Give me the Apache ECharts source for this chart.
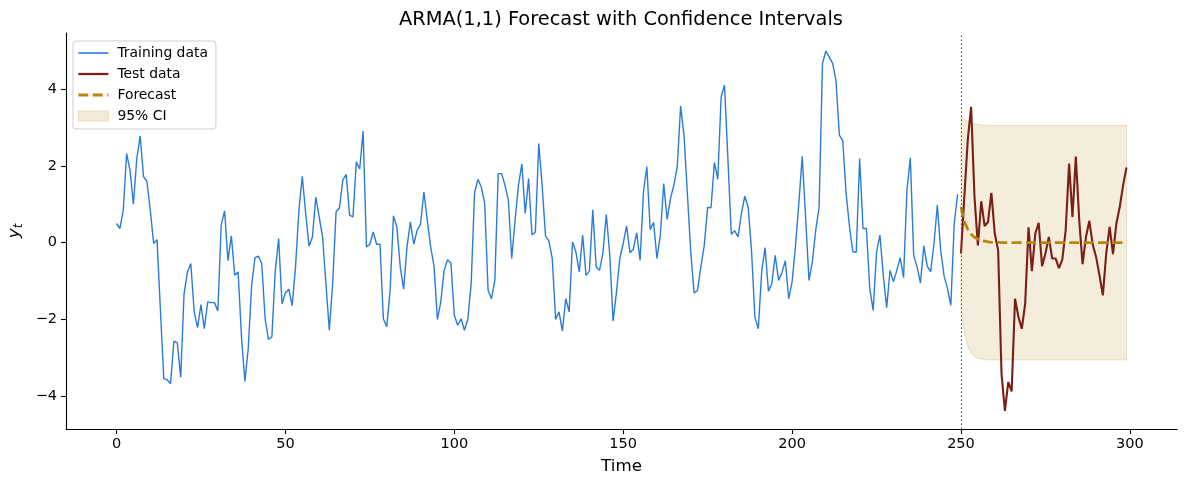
<!DOCTYPE html>
<html>
<head>
<meta charset="utf-8">
<script src="https://cdn.jsdelivr.net/npm/echarts@6/dist/echarts.min.js"></script>
<style>
html,body{margin:0;padding:0;background:#fff;}
#c{width:1187px;height:487px;}
</style>
</head>
<body>
<div id="c"></div>
<script>
// ---- data ----
const trainStart = 0;
const trainValues = [
 0.50, 0.37, 0.85, 2.32, 1.89, 1.00, 2.19, 2.78, 1.72, 1.60,
 0.85,-0.02, 0.08,-1.75,-3.54,-3.57,-3.67,-2.56,-2.61,-3.50,
-1.33,-0.76,-0.54,-1.80,-2.21,-1.61,-2.24,-1.54,-1.56,-1.56,
-1.78, 0.46, 0.83,-0.47, 0.18,-0.85,-0.76,-2.45,-3.61,-2.76,
-1.11,-0.39,-0.35,-0.54,-1.98,-2.52,-2.45,-0.74, 0.11,-1.59,
-1.31,-1.21,-1.64,-0.63, 0.85, 1.73, 0.76,-0.09, 0.15, 1.19,
 0.67, 0.15,-1.06,-2.28,-1.06, 0.80, 0.91, 1.63, 1.78, 0.72,
 0.67, 2.11, 1.92, 2.91,-0.11,-0.04, 0.28,-0.04,-0.04,-1.98,
-2.19,-1.24, 0.70, 0.41,-0.63,-1.21,-0.11, 0.54,-0.04, 0.33,
 0.48, 1.32, 0.59,-0.11,-0.61,-2.00,-1.54,-0.72,-0.44,-0.53,
-1.89,-2.15,-1.98,-2.28,-2.00,-1.06, 1.30, 1.65, 1.45, 1.02,
-1.24,-1.46,-0.98, 1.80, 1.80, 1.50, 1.11,-0.41, 0.59, 1.50,
 2.05, 0.76, 1.67, 0.20, 0.28, 2.58, 1.50, 0.18, 0.05,-0.41,
-2.00,-1.80,-2.30,-1.46,-1.80, 0.02,-0.24,-0.76, 0.20,-0.85,
-0.74, 0.86,-0.63,-0.72,-0.26, 0.73,-0.28,-2.04,-1.30,-0.41,
-0.02, 0.44,-0.26,-0.17, 0.26,-0.46, 1.32, 1.98, 0.34, 0.53,
-0.41, 0.20, 1.54, 0.61, 1.15, 1.50, 1.98, 3.56, 2.80, 1.28,
-0.24,-1.31,-1.24,-0.63,-0.07, 0.92, 0.91, 2.09, 1.65, 3.80,
 4.10, 2.19, 0.22, 0.31, 0.15, 0.76, 1.21, 0.93,-0.22,-1.95,
-2.24,-0.76,-0.13,-1.26,-1.06,-0.33,-0.98,-0.78,-0.47,-1.46,
-1.02,-0.10, 1.02, 2.25, 0.67,-0.98,-0.50, 0.33, 0.92, 4.67,
 4.99, 4.83, 4.67, 4.22, 2.80, 2.65, 1.28, 0.41,-0.24,-0.24,
 2.19, 0.37, 0.37,-1.19,-1.76,-0.26, 0.20,-0.85,-1.69,-0.72,
-1.02,-0.72,-0.39,-0.91, 1.37, 2.21,-0.33,-0.63,-1.05,-0.08,
-0.61,-0.76,-0.04, 0.98,-0.20,-0.87,-1.19,-1.63, 0.50, 1.26
];
const testStart = 250;
const testValues = [
-0.28, 1.20, 2.67, 3.54, 1.19,-0.07, 1.08, 0.43, 0.54, 1.30,
 0.24,-0.20,-3.41,-4.38,-3.63,-3.87,-1.46,-1.93,-2.24,-1.59,
 0.40,-0.74, 0.24, 0.52,-0.61,-0.28, 0.15,-0.41,-0.41,-0.66,
-0.44, 0.33, 2.06, 0.67, 2.24, 0.59,-0.56, 0.15, 0.57,-0.05,
-0.37,-0.85,-1.37,-0.28, 0.41,-0.30, 0.50, 0.93, 1.50, 1.96
];
const forecastValues = [
 0.93, 0.55, 0.35, 0.22, 0.14, 0.09, 0.06, 0.04, 0.02, 0.01,
 0.01, 0.01, 0.00, 0.00, 0.00, 0.00, 0.00, 0.00, 0.00, 0.00,
 0.00, 0.00, 0.00, 0.00, 0.00, 0.00, 0.00, 0.00, 0.00, 0.00,
 0.00, 0.00, 0.00, 0.00, 0.00, 0.00, 0.00, 0.00, 0.00, 0.00,
 0.00, 0.00, 0.00, 0.00, 0.00, 0.00, 0.00, 0.00, 0.00, 0.00
];
const ciUpper = [
 3.28, 3.22, 3.16, 3.12, 3.10, 3.08, 3.07, 3.06, 3.06, 3.05,
 3.05, 3.05, 3.05, 3.05, 3.05, 3.05, 3.05, 3.05, 3.05, 3.05,
 3.05, 3.05, 3.05, 3.05, 3.05, 3.05, 3.05, 3.05, 3.05, 3.05,
 3.05, 3.05, 3.05, 3.05, 3.05, 3.05, 3.05, 3.05, 3.05, 3.05,
 3.05, 3.05, 3.05, 3.05, 3.05, 3.05, 3.05, 3.05, 3.05, 3.05
];
const ciLower = [
-1.70,-2.35,-2.70,-2.88,-2.97,-3.01,-3.03,-3.04,-3.05,-3.05,
-3.05,-3.05,-3.05,-3.05,-3.05,-3.05,-3.05,-3.05,-3.05,-3.05,
-3.05,-3.05,-3.05,-3.05,-3.05,-3.05,-3.05,-3.05,-3.05,-3.05,
-3.05,-3.05,-3.05,-3.05,-3.05,-3.05,-3.05,-3.05,-3.05,-3.05,
-3.05,-3.05,-3.05,-3.05,-3.05,-3.05,-3.05,-3.05,-3.05,-3.05
];
const splitTime = 250;
const xTicks = [0, 50, 100, 150, 200, 250, 300];
const yTicks = [-4, -2, 0, 2, 4];
const xRange = [-14.95, 313.95];
const yRange = [-4.85, 5.46];

// ---- build series data ----
const trainData = trainValues.map((v, i) => [trainStart + i, v]);
const testData = testValues.map((v, i) => [testStart + i, v]);
const fcData = forecastValues.map((v, i) => [testStart + i, v]);
const bandData = ciUpper.map((v, i) => [testStart + i, ciLower[i], v]);

const FONT = 'DejaVu Sans';
const minus = v => (v < 0 ? '\u2212' + Math.abs(v) : String(v));

function renderBand(params, api) {
  if (params.dataIndex !== 0) return null;
  const top = [], bot = [];
  for (let i = 0; i < bandData.length; i++) {
    top.push(api.coord([bandData[i][0], bandData[i][2]]));
    bot.push(api.coord([bandData[i][0], bandData[i][1]]));
  }
  const pts = top.concat(bot.reverse());
  return {
    type: 'polygon',
    shape: {points: pts},
    style: {fill: 'rgba(184,134,11,0.15)', stroke: 'rgba(184,134,11,0.22)', lineWidth: 1}
  };
}

const chart = echarts.init(document.getElementById('c'), null, {renderer: 'canvas'});
chart.setOption({
  animation: false,
  backgroundColor: '#fff',
  textStyle: {fontFamily: FONT},
  title: {
    text: 'ARMA(1,1) Forecast with Confidence Intervals',
    left: 616, top: 5, textAlign: 'center',
    textStyle: {fontFamily: FONT, fontSize: 19.4, fontWeight: 'normal', color: '#000'}
  },
  grid: {left: 66, right: 10, top: 33, bottom: 58, containLabel: false, outerBoundsMode: 'none'},
  legend: {
    orient: 'vertical', left: 73, top: 41,
    itemWidth: 30, itemHeight: 10, itemGap: 5,
    padding: [4, 8, 5, 4],
    borderColor: '#cfcfcf', borderWidth: 1, borderRadius: 3,
    backgroundColor: 'rgba(255,255,255,0.8)',
    itemStyle: {opacity: 0},
    textStyle: {fontFamily: FONT, fontSize: 13.9, color: '#000', lineHeight: 16, padding: [0, 0, 0, 4]},
    data: [
      {name: 'Training data', lineStyle: {width: 1.6}},
      {name: 'Test data', lineStyle: {width: 2.3}},
      {name: 'Forecast', lineStyle: {width: 2.8, type: [10, 4.4]}},
      {name: '95% CI', icon: 'rect', itemStyle: {opacity: 1, color: '#f3ead8', borderColor: '#e9dcb8', borderWidth: 1}}
    ]
  },
  xAxis: {
    type: 'value', min: xRange[0], max: xRange[1],
    name: 'Time', nameLocation: 'middle', nameGap: 29,
    nameTextStyle: {fontFamily: FONT, fontSize: 16.7, color: '#000'},
    axisLine: {show: true, onZero: false, lineStyle: {color: '#000', width: 1.1}},
    axisTick: {show: true, length: 5, lineStyle: {color: '#000', width: 1.1}, customValues: xTicks},
    axisLabel: {fontFamily: FONT, fontSize: 14.5, color: '#000', margin: 8, customValues: xTicks, formatter: minus},
    splitLine: {show: false}
  },
  yAxis: {
    type: 'value', min: yRange[0], max: yRange[1],
    name: '{a|y}{b|t}', nameLocation: 'middle', nameGap: 40,
    nameTextStyle: {
      color: '#000',
      rich: {
        a: {fontFamily: FONT, fontStyle: 'italic', fontSize: 16.7, color: '#000'},
        b: {fontFamily: FONT, fontStyle: 'italic', fontSize: 11.7, color: '#000', padding: [8, 0, 0, 0]}
      }
    },
    axisLine: {show: true, onZero: false, lineStyle: {color: '#000', width: 1.1}},
    axisTick: {show: true, length: 5, lineStyle: {color: '#000', width: 1.1}, customValues: yTicks},
    axisLabel: {fontFamily: FONT, fontSize: 14.5, color: '#000', margin: 9, customValues: yTicks, formatter: minus},
    splitLine: {show: false}
  },
  series: [
    {
      name: '95% CI', type: 'custom', data: bandData, renderItem: renderBand,
      encode: {x: 0, y: [1, 2]}, silent: true, z: 1,
      itemStyle: {color: '#f3ead8'}
    },
    {
      name: 'Training data', type: 'line', data: trainData, symbol: 'none', z: 3,
      lineStyle: {width: 1.4, color: '#2a7bd8'}, itemStyle: {color: '#2a7bd8'},
      markLine: {
        silent: true, symbol: 'none', label: {show: false},
        lineStyle: {type: [1.5, 2.5], color: '#555', width: 1.1},
        data: [{xAxis: splitTime}]
      }
    },
    {
      name: 'Test data', type: 'line', data: testData, symbol: 'none', z: 3,
      lineStyle: {width: 2.1, color: '#7a1f17'}, itemStyle: {color: '#7a1f17'}
    },
    {
      name: 'Forecast', type: 'line', data: fcData, symbol: 'none', z: 4,
      lineStyle: {width: 2.8, color: '#b8860b', type: [10, 4.4]}, itemStyle: {color: '#b8860b'}
    }
  ]
});
</script>
</body>
</html>
